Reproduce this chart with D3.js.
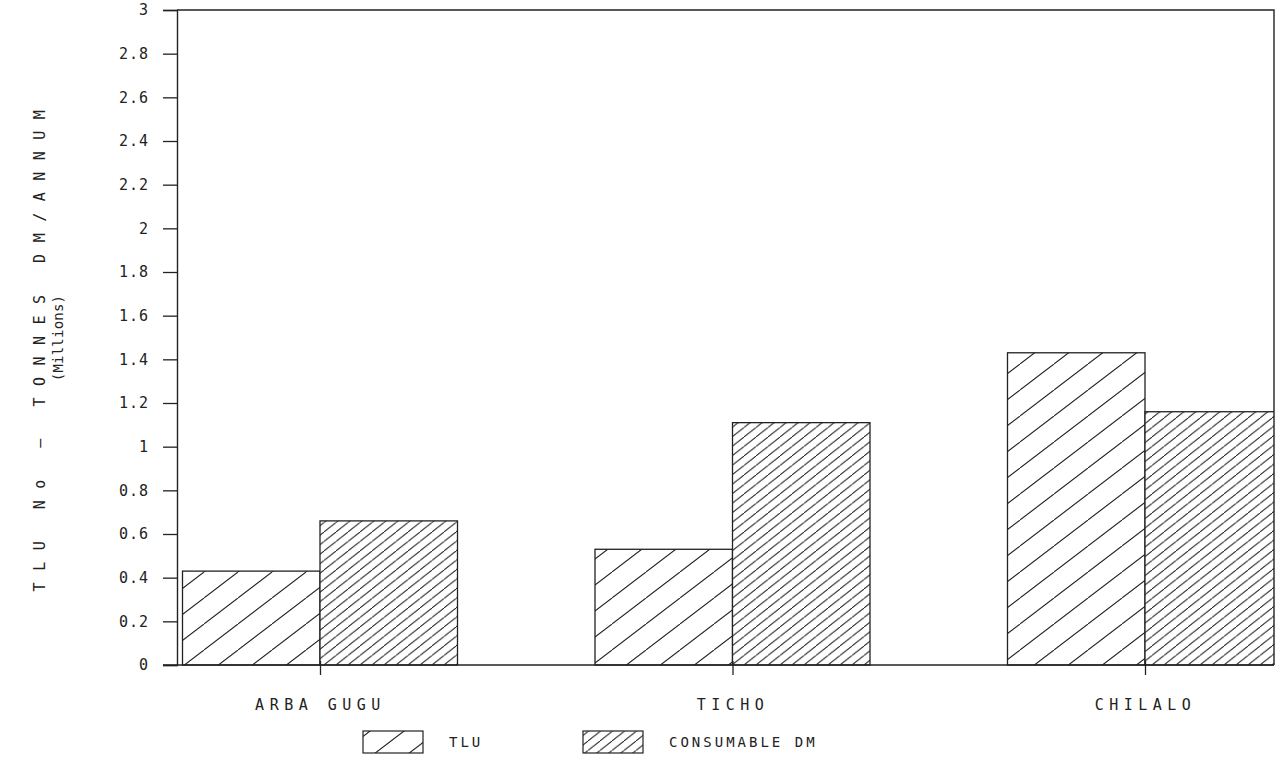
<!DOCTYPE html>
<html>
<head>
<meta charset="utf-8">
<script src="https://cdn.jsdelivr.net/npm/d3@7"></script>
<style>
  html, body { margin: 0; padding: 0; background: #fff; }
  svg { display: block; }
  text { font-family: "DejaVu Sans Mono", "Liberation Mono", monospace; fill: #222; }
</style>
</head>
<body>
<svg id="chart" width="1275" height="783"></svg>
<script>
// ---- data ----
const categories = ["ARBA GUGU", "TICHO", "CHILALO"];
const seriesNames = ["TLU", "CONSUMABLE DM"];
const tluValues = [0.43, 0.53, 1.43];
const consumableValues = [0.66, 1.11, 1.16];
const yTicks = [0, 0.2, 0.4, 0.6, 0.8, 1, 1.2, 1.4, 1.6, 1.8, 2, 2.2, 2.4, 2.6, 2.8, 3];
const yTitle = "TLU No — TONNES DM/ANNUM";
const yUnits = "(Millions)";

// ---- layout ----
const svg = d3.select("#chart");
const plot = { left: 177, right: 1274, top: 10, bottom: 665 };
const ink = "#222";

const y = d3.scaleLinear().domain([0, 3]).range([plot.bottom, plot.top]);
const x = d3.scaleBand().domain(categories).range([182.5, 1282.5]).paddingInner(1 / 3).paddingOuter(0);
const xs = d3.scaleBand().domain(seriesNames).range([0, x.bandwidth()]);

// ---- hatch patterns ----
const defs = svg.append("defs");
function hatch(id, w, h, sw) {
  const p = defs.append("pattern").attr("id", id)
    .attr("patternUnits", "userSpaceOnUse").attr("width", w).attr("height", h);
  p.append("path")
    .attr("d", `M0,${h} L${w},0 M${-w},${h} L0,0 M${w},${2*h} L${2*w},${h}`)
    .attr("stroke", ink).attr("stroke-width", sw).attr("fill", "none");
}
hatch("hatchTLU", 34, 26, 1.1);
hatch("hatchDM", 12, 9.5, 1);
const fills = { "TLU": "url(#hatchTLU)", "CONSUMABLE DM": "url(#hatchDM)" };

defs.append("clipPath").attr("id", "plotClip").append("rect")
  .attr("x", plot.left).attr("y", plot.top)
  .attr("width", plot.right - plot.left).attr("height", plot.bottom - plot.top + 1);

// ---- bars ----
const rows = categories.map((c, i) => ({ cat: c, vals: [
  { s: "TLU", v: tluValues[i] }, { s: "CONSUMABLE DM", v: consumableValues[i] }] }));

const bars = svg.append("g").attr("clip-path", "url(#plotClip)");
rows.forEach(r => {
  r.vals.forEach(d => {
    bars.append("rect")
      .attr("x", x(r.cat) + xs(d.s))
      .attr("y", y(d.v))
      .attr("width", xs.bandwidth())
      .attr("height", y(0) - y(d.v))
      .attr("fill", "#fff");
    bars.append("rect")
      .attr("x", x(r.cat) + xs(d.s))
      .attr("y", y(d.v))
      .attr("width", xs.bandwidth())
      .attr("height", y(0) - y(d.v))
      .attr("fill", fills[d.s])
      .attr("stroke", ink).attr("stroke-width", 1.3);
  });
});

// ---- frame (top, right) ----
svg.append("path")
  .attr("d", `M${plot.left},${plot.top} H${plot.right} V${plot.bottom}`)
  .attr("fill", "none").attr("stroke", ink).attr("stroke-width", 1.4);

// ---- y axis ----
const yAxis = d3.axisLeft(y).tickValues(yTicks).tickSize(14).tickPadding(14)
  .tickFormat(d => String(d));
const gy = svg.append("g").attr("transform", `translate(${plot.left},0)`).call(yAxis);
gy.select(".domain").attr("stroke", ink).attr("stroke-width", 1.4);
gy.selectAll(".tick line").attr("stroke", ink).attr("stroke-width", 1.3);
gy.selectAll(".tick text").attr("font-size", 15).attr("letter-spacing", 1).style("fill", ink)
  .style("font-family", "'DejaVu Sans Mono', monospace");

// ---- x axis ----
const centers = categories.map(c => x(c) + x.bandwidth() / 2);
const xAxis = d3.axisBottom(d3.scalePoint().domain(categories).range([centers[0], centers[2]]))
  .tickSize(10).tickPadding(24).tickSizeOuter(0);
const gx = svg.append("g").attr("transform", `translate(0,${plot.bottom})`).call(xAxis);
gx.select(".domain").remove();
gx.selectAll(".tick line").attr("stroke", ink).attr("stroke-width", 1.3).attr("y1", -4);
gx.selectAll(".tick text").attr("font-size", 15).attr("letter-spacing", 5.5).style("fill", ink)
  .style("font-family", "'DejaVu Sans Mono', monospace");
svg.append("line").attr("x1", plot.left - 14).attr("x2", plot.right)
  .attr("y1", plot.bottom).attr("y2", plot.bottom)
  .attr("stroke", ink).attr("stroke-width", 1.4);

// ---- y title ----
svg.append("text")
  .attr("transform", `translate(40,345) rotate(-90)`)
  .attr("text-anchor", "middle").attr("dominant-baseline", "central")
  .attr("font-size", 15).attr("letter-spacing", 11.5)
  .text(yTitle);
svg.append("text")
  .attr("transform", `translate(58,338) rotate(-90)`)
  .attr("text-anchor", "middle").attr("dominant-baseline", "central")
  .attr("font-size", 14).attr("letter-spacing", 0.2)
  .text(yUnits);

// ---- legend ----
const legendX = [363, 583];
const legend = svg.append("g");
seriesNames.forEach((s, i) => {
  legend.append("rect").attr("x", legendX[i]).attr("y", 731)
    .attr("width", 60).attr("height", 22)
    .attr("fill", fills[s]).attr("stroke", ink).attr("stroke-width", 1.2);
  legend.append("text").attr("x", legendX[i] + 86).attr("y", 742)
    .attr("dominant-baseline", "central")
    .attr("font-size", 14).attr("letter-spacing", 3)
    .text(s);
});
</script>
</body>
</html>
